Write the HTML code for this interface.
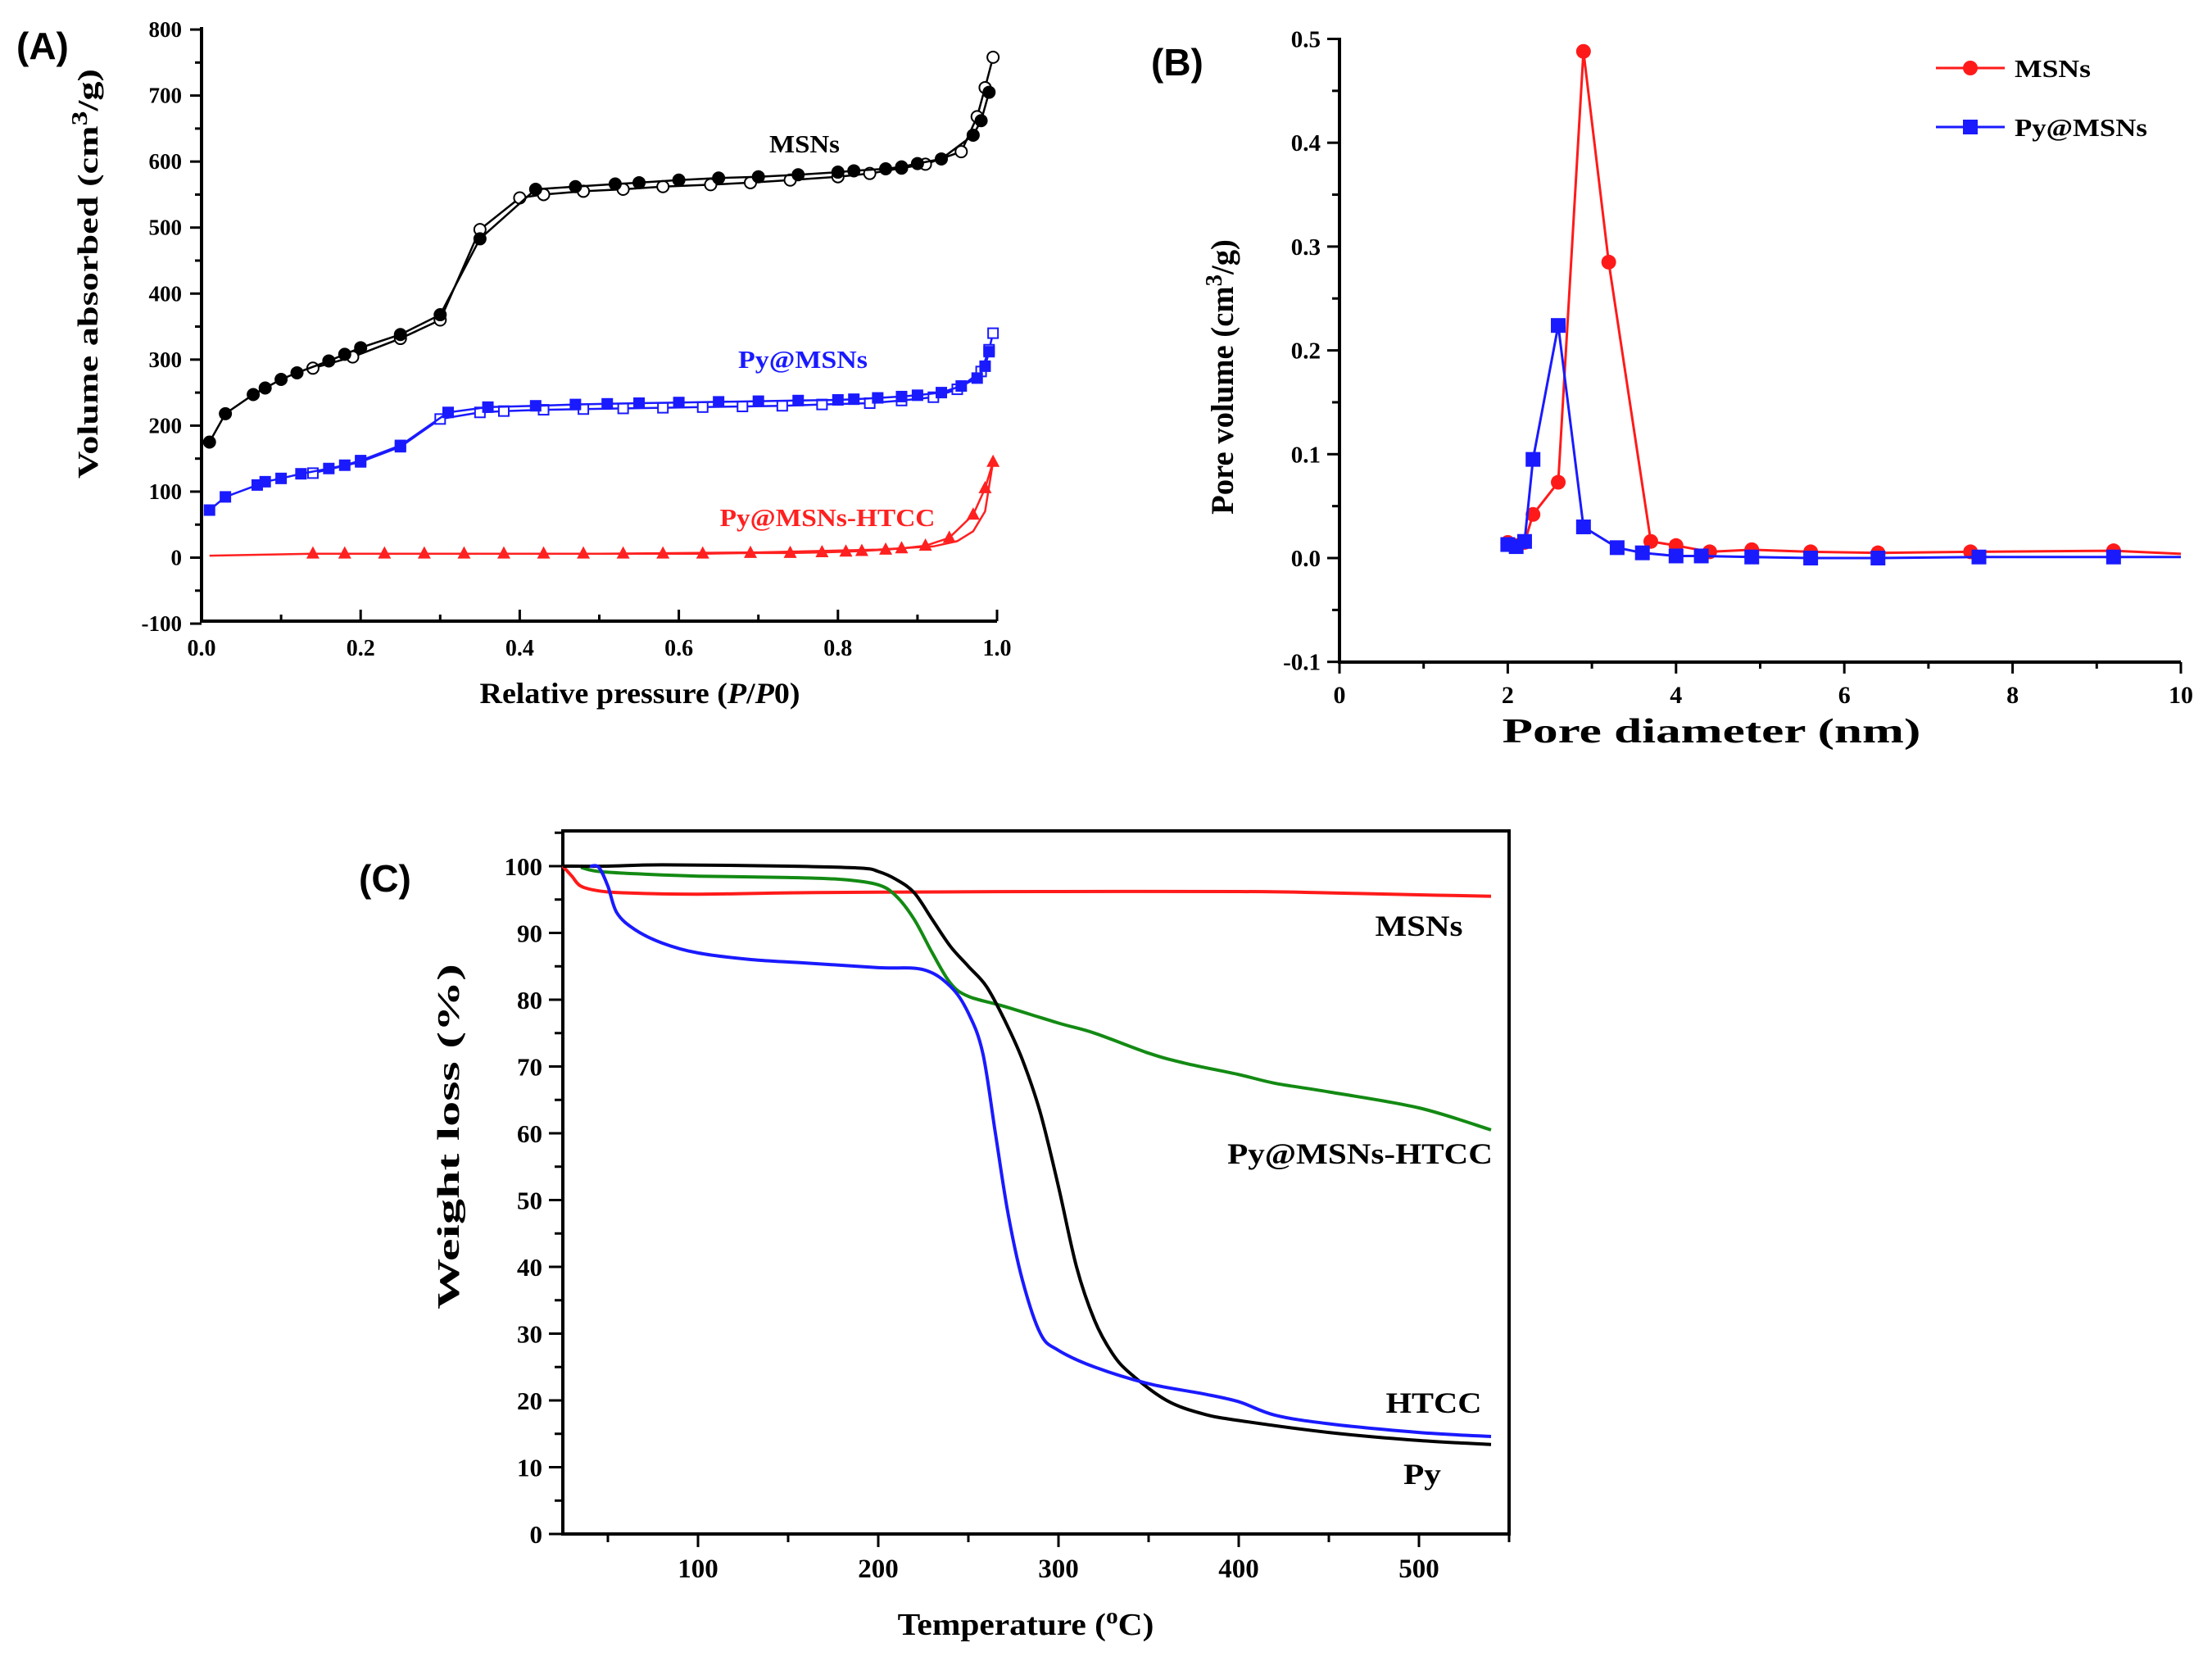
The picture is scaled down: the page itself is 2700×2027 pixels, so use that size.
<!DOCTYPE html>
<html><head><meta charset="utf-8"><style>
html,body{margin:0;padding:0;background:#fff}
svg{display:block}
text{font-family:"Liberation Serif",serif;font-weight:bold}
.pl{font-family:"Liberation Sans",sans-serif;font-weight:bold}
</style></head><body>
<svg id="fig" width="2700" height="2027" viewBox="0 0 2700 2027" xmlns="http://www.w3.org/2000/svg">
<rect width="2700" height="2027" fill="#fff"/>
<text class="pl" x="20" y="72" font-size="46">(A)</text>
<text class="pl" x="1405" y="92" font-size="46">(B)</text>
<text class="pl" x="438" y="1088" font-size="46">(C)</text>
<g id="gA"></g>
<g id="gB"></g>
<g id="gC"></g>
</svg>
<script>
// ---- Panel A data ----
const aMsnAdsX=[0.01,0.03,0.065,0.08,0.1,0.12,0.16,0.18,0.2,0.25,0.3,0.35,0.42,0.47,0.52,0.55,0.6,0.65,0.7,0.75,0.8,0.82,0.86,0.88,0.9,0.93,0.97,0.98,0.99];
const aMsnAdsY=[175,218,247,257,270,280,298,308,318,338,368,483,558,562,566,568,572,575,577,580,584,586,589,592,597,604,640,662,705];
const aMsnDesX=[0.995,0.985,0.975,0.955,0.91,0.88,0.84,0.8,0.74,0.69,0.64,0.58,0.53,0.48,0.43,0.4,0.35,0.3,0.25,0.19,0.14];
const aMsnDesY=[758,712,668,615,596,590,582,577,572,568,565,562,558,555,550,545,497,360,332,304,287];
const aPyAdsX=[0.01,0.03,0.07,0.08,0.1,0.125,0.16,0.18,0.2,0.25,0.31,0.36,0.42,0.47,0.51,0.55,0.6,0.65,0.7,0.75,0.8,0.82,0.85,0.88,0.9,0.93,0.955,0.975,0.985,0.99];
const aPyAdsY=[72,92,110,115,120,127,135,140,147,170,220,228,230,232,233,234,235,236,237,238,239,240,242,244,246,250,260,272,290,312];
const aPyDesX=[0.995,0.99,0.98,0.95,0.92,0.88,0.84,0.78,0.73,0.68,0.63,0.58,0.53,0.48,0.43,0.38,0.35,0.3,0.25,0.2,0.14];
const aPyDesY=[340,315,282,255,243,238,234,232,230,229,228,227,226,225,224,222,220,210,168,145,128];
const aHtAdsX=[0.01,0.14,0.18,0.23,0.28,0.33,0.38,0.43,0.48,0.53,0.58,0.63,0.69,0.74,0.78,0.81,0.83,0.86,0.88,0.91,0.94,0.97,0.985,0.995];
const aHtAdsY=[3,6,6,6,6,6,6,6,6,6,6,6,7,7,8,9,10,12,14,18,30,65,105,145];
const aHtDesX=[0.995,0.985,0.97,0.95,0.92,0.85,0.7,0.5,0.3,0.14];
const aHtDesY=[145,70,40,25,17,12,8,6,6,6];
const aXTicks=[0,0.2,0.4,0.6,0.8,1.0];
const aXLabels=["0.0","0.2","0.4","0.6","0.8","1.0"];
const aYTicks=[-100,0,100,200,300,400,500,600,700,800];
// ---- Panel B data ----
const bMsnX=[2.0,2.1,2.2,2.3,2.6,2.9,3.2,3.7,4.0,4.4,4.9,5.6,6.4,7.5,9.2,10];
const bMsnY=[0.015,0.012,0.015,0.042,0.073,0.488,0.285,0.016,0.012,0.006,0.008,0.006,0.005,0.006,0.007,0.004];
const bPyX=[2.0,2.1,2.2,2.3,2.6,2.9,3.3,3.6,4.0,4.3,4.9,5.6,6.4,7.6,9.2,10];
const bPyY=[0.013,0.011,0.016,0.095,0.224,0.03,0.01,0.005,0.002,0.002,0.001,0,0,0.001,0.001,0.001];
const bXTicks=[0,2,4,6,8,10];
const bYTicks=[-0.1,0,0.1,0.2,0.3,0.4,0.5];
const bYLabels=["-0.1","0.0","0.1","0.2","0.3","0.4","0.5"];
// ---- Panel C data ----
const cMsnT=[25,30,35,45,60,100,150,200,300,400,450,500,540];
const cMsnW=[100,98.5,97,96.3,96,95.8,96,96.1,96.2,96.2,96,95.7,95.5];
const cHtT=[40,45,50,55,65,80,100,130,160,200,225,240,250,258,265,272,280,290,300,320,350,380,400,420,450,500,540];
const cHtW=[100,99.8,97,93,90.5,88.5,87,86,85.5,84.8,84.5,82,78,72,60,48,38,30,27.5,25,22.5,21,19.8,17.8,16.5,15.2,14.6];
const cPyT=[25,50,80,150,190,200,210,220,230,240,250,260,270,280,290,300,310,320,330,340,360,380,400,450,500,540];
const cPyW=[100,100,100.2,100,99.7,99.2,98,96,92,88,85,82,77,71,63,52,40,32,27,24,20,18,17,15.2,14,13.4];
const cGrT=[35,45,70,100,150,180,200,210,220,230,240,250,270,300,320,350,370,400,420,450,500,540];
const cGrW=[99.8,99.2,98.8,98.5,98.3,98,97.2,95.5,92,87,82.5,80.5,79,76.5,75,72,70.5,68.8,67.5,66.2,63.8,60.5];
const cXTicks=[100,200,300,400,500];
const cYTicks=[0,10,20,30,40,50,60,70,80,90,100];

const NS="http://www.w3.org/2000/svg";
function mk(parent,tag,attrs){const e=document.createElementNS(NS,tag);for(const k in attrs)e.setAttribute(k,attrs[k]);parent.appendChild(e);return e;}
function txt(parent,x,y,s,size,anchor,fill){const t=mk(parent,'text',{x:x,y:y,'font-size':size,'text-anchor':anchor||'middle',fill:fill||'#000'});t.textContent=s;return t;}
// stretched text: anchor point (x,y), rotation, target length
function stext(parent,x,y,html,size,len,rot,anchor,fill){
 const g=mk(parent,'g',{});
 const t=mk(g,'text',{x:0,y:0,'font-size':size,'text-anchor':anchor||'middle',fill:fill||'#000'});t.innerHTML=html;
 let w=t.getComputedTextLength();const s=(w>0&&len)?len/w:1;
 g.setAttribute('transform',`translate(${x},${y}) rotate(${rot||0}) scale(${s.toFixed(3)},1)`);
 return t;}
function pathOf(xs,ys,sx,sy){return xs.map((v,i)=>(i?'L':'M')+sx(v).toFixed(1)+','+sy(ys[i]).toFixed(1)).join('');}
function smoothOf(xs,ys,sx,sy){const P=xs.map((v,i)=>[sx(v),sy(ys[i])]);let d='M'+P[0][0].toFixed(1)+','+P[0][1].toFixed(1);
 for(let i=0;i<P.length-1;i++){const p0=P[Math.max(0,i-1)],p1=P[i],p2=P[i+1],p3=P[Math.min(P.length-1,i+2)];
  const c1=[p1[0]+(p2[0]-p0[0])/6,p1[1]+(p2[1]-p0[1])/6],c2=[p2[0]-(p3[0]-p1[0])/6,p2[1]-(p3[1]-p1[1])/6];
  d+=`C${c1[0].toFixed(1)},${c1[1].toFixed(1)} ${c2[0].toFixed(1)},${c2[1].toFixed(1)} ${p2[0].toFixed(1)},${p2[1].toFixed(1)}`;}
 return d;}

// ===== Panel A =====
(function(){
const g=document.getElementById('gA');
const sx=v=>246+v*(1217-246);
const SY=v=>680.5-(v)*(758-33)/900;
const ax=mk(g,'path',{d:'M246,33V758H1217',fill:'none',stroke:'#000','stroke-width':4});

for(let v=0;v<=1.0001;v+=0.1){const x=sx(v);mk(g,'line',{x1:x,y1:758,x2:x,y2:(Math.round(v*10)%2==0?744:750),stroke:'#000','stroke-width':3});}
aXTicks.forEach((v,i)=>{const t=txt(g,sx(v),800,aXLabels[i],28);});
for(let v=-100;v<=800;v+=50){const y=SY(v);mk(g,'line',{x1:246,y1:y,x2:(v%100==0?232:238),y2:y,stroke:'#000','stroke-width':3});}
aYTicks.forEach(v=>{const t=txt(g,222,SY(v)+9,String(v),27,'end');});
let t=stext(g,781,858,'Relative pressure (<tspan font-style="italic">P</tspan>/<tspan font-style="italic">P</tspan>0)',36,391,0);

t=stext(g,119,334,'Volume absorbed (cm<tspan dy="-13" font-size="27">3</tspan><tspan dy="13">/g)</tspan>',35,500,-90);

function series(xs,ys,col,marker,fill,name){
 const p=mk(g,'path',{d:pathOf(xs,ys,sx,SY),fill:'none',stroke:col,'stroke-width':2.5});
 
 if(!marker)return;
 xs.forEach((v,i)=>{const x=sx(v),y=SY(ys[i]);let m;
  if(marker=='c')m=mk(g,'circle',{cx:x,cy:y,r:7,fill:fill,stroke:col,'stroke-width':2});
  else m=mk(g,'rect',{x:x-6,y:y-6,width:12,height:12,fill:fill,stroke:col,'stroke-width':2});
  });
}
series(aMsnDesX,aMsnDesY,'#000','c','#fff','msns-desorption');
series(aMsnAdsX,aMsnAdsY,'#000','c','#000','msns-adsorption');
series(aPyDesX,aPyDesY,'#1a1aff','s','#fff','py-msns-desorption');
series(aPyAdsX,aPyAdsY,'#1a1aff','s','#1a1aff','py-msns-adsorption');
series(aHtDesX,aHtDesY,'#ff2020',null,null,'htcc-desorption');
const p=mk(g,'path',{d:pathOf(aHtAdsX,aHtAdsY,sx,SY),fill:'none',stroke:'#ff2020','stroke-width':2.5});

aHtAdsX.forEach((v,i)=>{if(i==0)return;const x=sx(v),y=SY(aHtAdsY[i]);const m=mk(g,'path',{d:`M${x},${y-9}L${x+8},${y+6}L${x-8},${y+6}Z`,fill:'#ff2020'});
 });
t=stext(g,982,186,'MSNs',31,86,0);
t=stext(g,980,449,'Py@MSNs',31,158,0,'middle','#1a1aff');
t=stext(g,1010,642,'Py@MSNs-HTCC',31,263,0,'middle','#ff2020');
})();

// ===== Panel B =====
(function(){
const g=document.getElementById('gB');
const sx=v=>1635+v*102.7, sy=v=>681-v*1267;
const ax=mk(g,'path',{d:'M1635,46V808H2662',fill:'none',stroke:'#000','stroke-width':4});

for(let v=0;v<=10;v++){const x=sx(v);mk(g,'line',{x1:x,y1:808,x2:x,y2:(v%2==0?822:816),stroke:'#000','stroke-width':3});}
bXTicks.forEach(v=>{const t=txt(g,sx(v),858,String(v),30);});
for(let k=-2;k<=10;k++){const v=k*0.05,y=sy(v);mk(g,'line',{x1:1635,y1:y,x2:(k%2==0?1620:1626),y2:y,stroke:'#000','stroke-width':3});}
bYTicks.forEach((v,i)=>{const t=txt(g,1612,sy(v)+10,bYLabels[i],29,'end');});
let t=stext(g,2089,906,'Pore diameter (nm)',42,511,0);
t=stext(g,1505,460,'Pore volume (cm<tspan dy="-14" font-size="29">3</tspan><tspan dy="14">/g)</tspan>',39,336,-90);

function series(xs,ys,col,marker,name){
 const p=mk(g,'path',{d:pathOf(xs,ys,sx,sy),fill:'none',stroke:col,'stroke-width':3});
 
 xs.forEach((v,i)=>{if(v>=10)return;const x=sx(v),y=sy(ys[i]);let m;
  if(marker=='c')m=mk(g,'circle',{cx:x,cy:y,r:9,fill:col});else m=mk(g,'rect',{x:x-9,y:y-9,width:18,height:18,fill:col});
  });
}
series(bMsnX,bMsnY,'#ff1a1a','c','msns');
series(bPyX,bPyY,'#1a1aff','s','py-msns');
const l1=mk(g,'g',{});
mk(l1,'line',{x1:2363,y1:83,x2:2447,y2:83,stroke:'#ff1a1a','stroke-width':3});mk(l1,'circle',{cx:2405,cy:83,r:9,fill:'#ff1a1a'});
stext(l1,2459,94,'MSNs',31,93,0,'start');
const l2=mk(g,'g',{});
mk(l2,'line',{x1:2363,y1:155,x2:2447,y2:155,stroke:'#1a1aff','stroke-width':3});mk(l2,'rect',{x:2396,y:146,width:18,height:18,fill:'#1a1aff'});
stext(l2,2459,166,'Py@MSNs',31,162,0,'start');
})();

// ===== Panel C =====
(function(){
const g=document.getElementById('gC');
const sx=v=>852+(v-100)*2.2, sy=v=>1872-v*8.15;
const ax=mk(g,'rect',{x:687,y:1014,width:1155,height:858,fill:'none',stroke:'#000','stroke-width':4});

for(let v=50;v<=550;v+=50){const x=sx(v);mk(g,'line',{x1:x,y1:1872,x2:x,y2:(v%100==0?1888:1882),stroke:'#000','stroke-width':3});}
cXTicks.forEach(v=>{const t=txt(g,sx(v),1925,String(v),33);});
for(let v=0;v<=105;v+=5){const y=sy(v);mk(g,'line',{x1:687,y1:y,x2:(v%10==0?670:677),y2:y,stroke:'#000','stroke-width':3});}
cYTicks.forEach(v=>{const t=txt(g,662,sy(v)+11,String(v),31,'end');});
let t=stext(g,1252,1995,'Temperature (<tspan dy="-14" font-size="27">o</tspan><tspan dy="14">C)</tspan>',38,313,0);

t=stext(g,560,1387,'Weight loss (%)',38,422,-90);
function line(xs,ys,col,name){const p=mk(g,'path',{d:smoothOf(xs,ys,sx,sy),fill:'none',stroke:col,'stroke-width':4,'stroke-linejoin':'round'});
 }
line(cMsnT,cMsnW,'#ff1a1a','msns-curve');
line(cGrT,cGrW,'#138a13','py-msns-htcc-curve');
line(cPyT,cPyW,'#000','py-curve');
line(cHtT,cHtW,'#1a1aff','htcc-curve');
[['MSNs',1732,1142,'label-msns-c',107],['Py@MSNs-HTCC',1660,1420,'label-py-msns-htcc-c',324],['HTCC',1750,1724,'label-htcc-c',117],['Py',1736,1811,'label-py-c',46]].forEach(a=>{
 const e=stext(g,a[1],a[2],a[0],36,a[4],0);});
})();
</script>
</body></html>
